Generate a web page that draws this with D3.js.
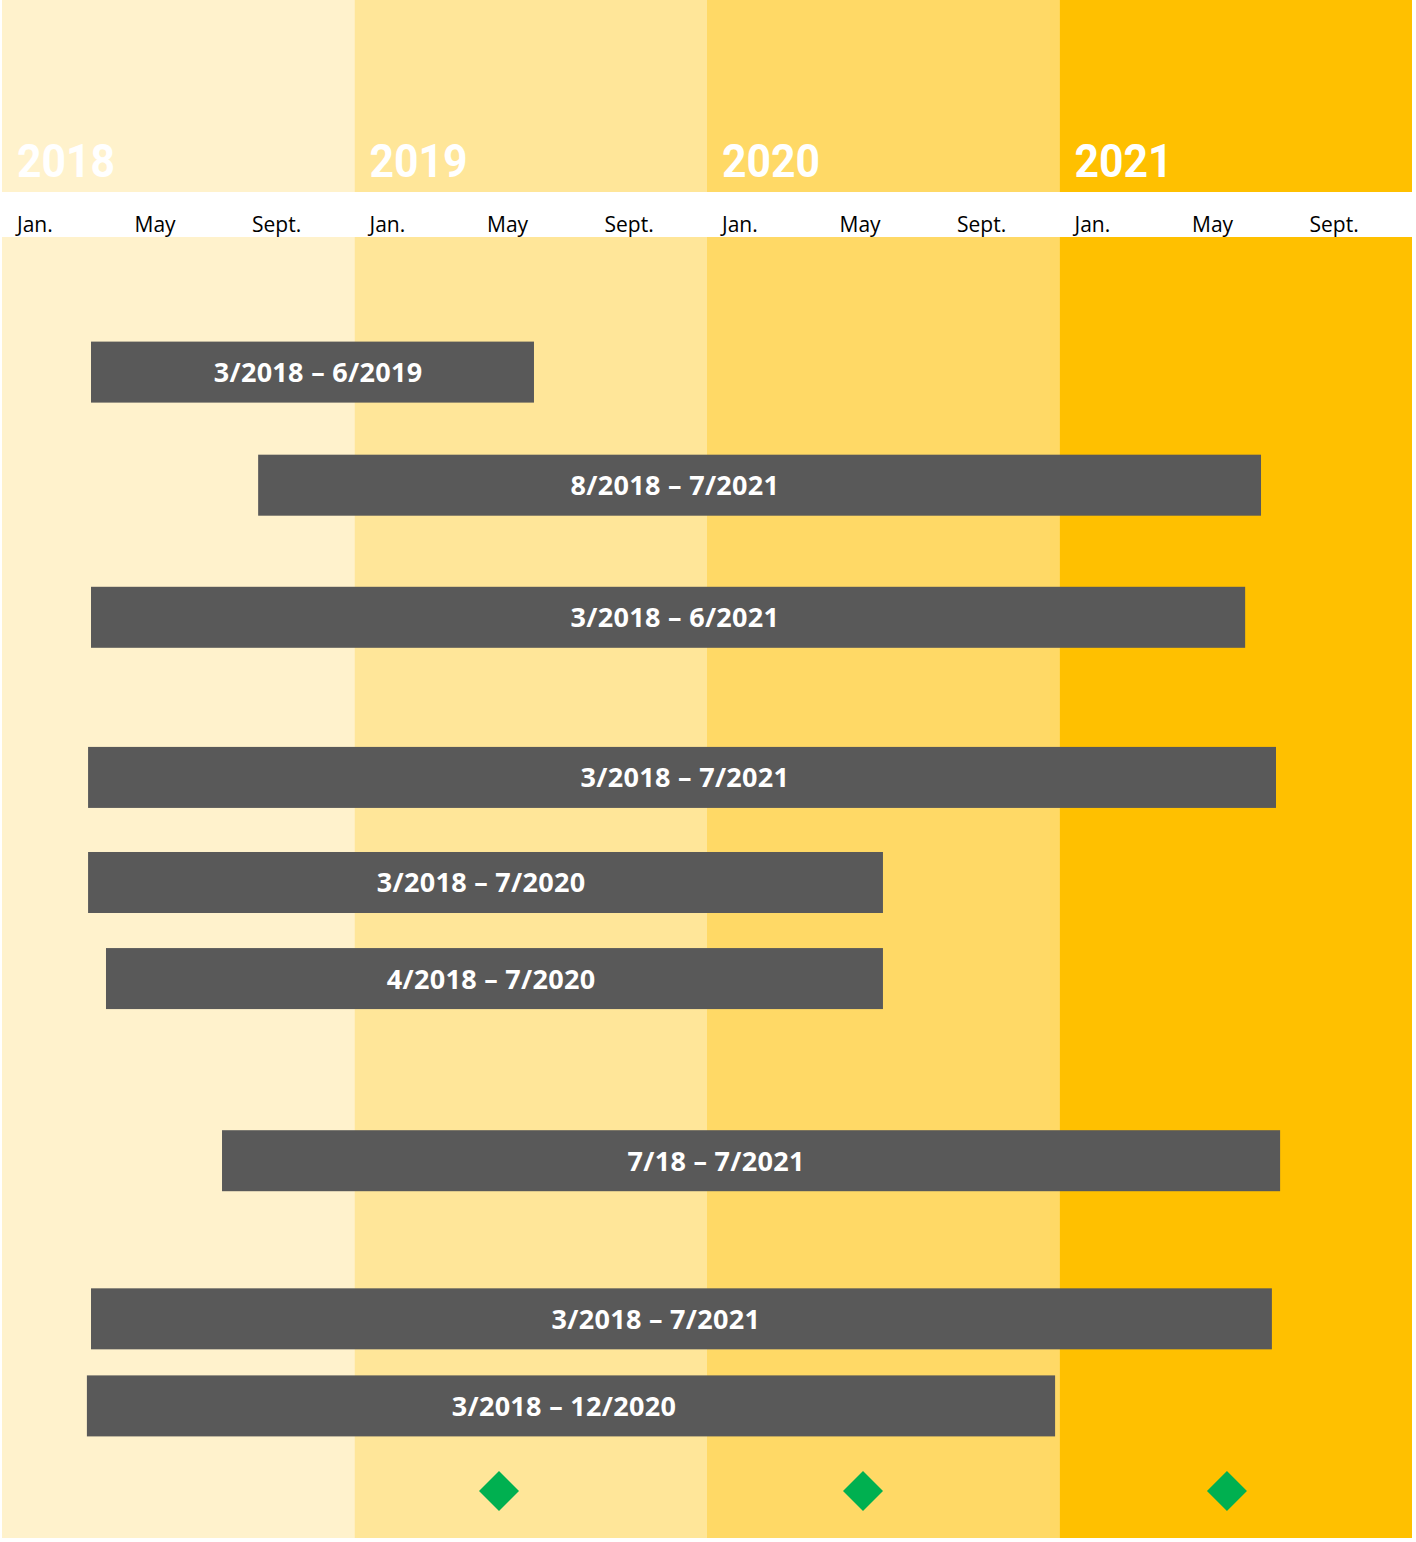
<!DOCTYPE html>
<html>
<head>
<meta charset="utf-8">
<script src="https://cdn.jsdelivr.net/npm/d3@7"></script>
<style>
  body { margin: 0; background: #fff; }
  .year { font-family: Roboto, sans-serif; font-weight: 700; fill: #fff; }
  .month { font-family: 'Open Sans', sans-serif; font-size: 21px; fill: #000; }
  .bar-label { font-family: 'Open Sans', sans-serif; font-weight: 700; font-size: 27px; fill: #fff; letter-spacing: 0.3px; }
</style>
</head>
<body>
<div id="plot-container"></div>
<script>
// data, months counted from Jan. 2018
var years = ['2018', '2019', '2020', '2021'];
var monthTicks = ['Jan.', 'May', 'Sept.'];
var monthTickAt = [0, 4, 8];
var barLabels = ['3/2018 – 6/2019', '8/2018 – 7/2021', '3/2018 – 6/2021', '3/2018 – 7/2021',
  '3/2018 – 7/2020', '4/2018 – 7/2020', '7/18 – 7/2021', '3/2018 – 7/2021', '3/2018 – 12/2020'];
var barStart = [3.03, 8.72, 3.03, 2.93, 2.93, 3.54, 7.49, 3.03, 2.89];
var barEnd = [18.11, 42.86, 42.32, 43.37, 29.99, 29.99, 43.51, 43.23, 35.85];
var labelAt = [10.76, 22.91, 22.91, 23.25, 16.31, 16.65, 24.31, 22.26, 19.13];
var barRow = [1.35, 2.48, 3.80, 5.40, 6.45, 7.41, 9.23, 10.81, 11.68];
var milestoneAt = [16.92, 29.31, 41.70];
var milestoneRow = 12.53;

// configuration
var totalWidth = 1416, totalHeight = 1542;
var margins = {left: 2, right: 4, headTop: 0, headBottom: 192, axisBottom: 237, bottom: 1538};
var yearColors = ['#FFF2CC', '#FFE699', '#FFD966', '#FFC000'];
var barHeight = 61, diamond = 20;

var xScale = d3.scaleLinear().domain([0, 48]).range([margins.left, totalWidth - margins.right]);
var yScale = d3.scaleLinear().domain([0, 13]).range([margins.axisBottom, margins.bottom]);

var svg = d3.select('#plot-container').append('svg').attr('width', totalWidth).attr('height', totalHeight);

// year columns: header band and body band, white strip between
var cols = svg.selectAll('g.year-col').data(years).enter().append('g').attr('class', 'year-col');
cols.append('rect')
  .attr('x', function(d, i) { return xScale(i * 12); })
  .attr('width', function(d, i) { return xScale((i + 1) * 12) - xScale(i * 12); })
  .attr('y', margins.headTop).attr('height', margins.headBottom - margins.headTop)
  .attr('fill', function(d, i) { return yearColors[i]; });
cols.append('rect')
  .attr('x', function(d, i) { return xScale(i * 12); })
  .attr('width', function(d, i) { return xScale((i + 1) * 12) - xScale(i * 12); })
  .attr('y', margins.axisBottom).attr('height', margins.bottom - margins.axisBottom)
  .attr('fill', function(d, i) { return yearColors[i]; });
cols.append('text').attr('class', 'year')
  .attr('x', function(d, i) { return xScale(i * 12) + 15; }).attr('y', 177)
  .attr('font-size', 47).attr('textLength', 98).attr('lengthAdjust', 'spacingAndGlyphs')
  .text(function(d) { return d; });

// month labels
var ticks = [];
years.forEach(function(y, i) {
  monthTicks.forEach(function(m, j) { ticks.push({label: m, month: i * 12 + monthTickAt[j]}); });
});
svg.selectAll('text.month').data(ticks).enter().append('text').attr('class', 'month')
  .attr('x', function(d) { return xScale(d.month) + 15; }).attr('y', 232)
  .text(function(d) { return d.label; });

// bars
var bars = barLabels.map(function(d, i) {
  return {label: d, start: barStart[i], end: barEnd[i], at: labelAt[i], row: barRow[i]};
});
var barG = svg.selectAll('g.bar').data(bars).enter().append('g').attr('class', 'bar');
barG.append('rect')
  .attr('x', function(d) { return xScale(d.start); })
  .attr('width', function(d) { return xScale(d.end) - xScale(d.start); })
  .attr('y', function(d) { return yScale(d.row) - barHeight / 2; })
  .attr('height', barHeight)
  .attr('fill', '#595959');
barG.append('text').attr('class', 'bar-label')
  .attr('x', function(d) { return xScale(d.at); })
  .attr('y', function(d) { return yScale(d.row) + 10; })
  .attr('text-anchor', 'middle')
  .text(function(d) { return d.label; });

// milestones
svg.selectAll('path.milestone').data(milestoneAt).enter().append('path').attr('class', 'milestone')
  .attr('transform', function(d) { return 'translate(' + [xScale(d), yScale(milestoneRow)] + ')'; })
  .attr('d', 'M0,' + (-diamond) + 'L' + diamond + ',0L0,' + diamond + 'L' + (-diamond) + ',0Z')
  .attr('fill', '#00B050');
</script>
</body>
</html>
